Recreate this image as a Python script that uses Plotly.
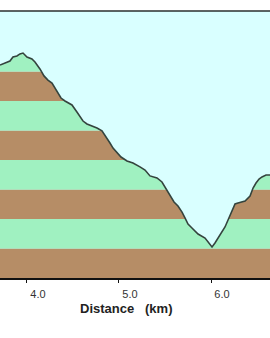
import plotly.graph_objects as go

# Elevation profile (distance km, elevation m)
distance_km = [3.707, 3.761, 3.815, 3.848, 3.891, 3.924, 3.957, 4.000, 4.054, 4.087,
               4.141, 4.185, 4.228, 4.272, 4.304, 4.337, 4.370, 4.413, 4.446, 4.489,
               4.543, 4.576, 4.609, 4.652, 4.685, 4.761, 4.815, 4.848, 4.902, 4.935,
               4.978, 5.022, 5.087, 5.152, 5.228, 5.283, 5.337, 5.413, 5.467, 5.522,
               5.554, 5.598, 5.641, 5.685, 5.717, 5.750, 5.793, 5.859, 5.935, 5.978,
               6.011, 6.043, 6.065, 6.098, 6.120, 6.152, 6.185, 6.228, 6.261, 6.293,
               6.337, 6.370, 6.424, 6.457, 6.489, 6.522, 6.554, 6.598, 6.641]
elevation_m = [344.4, 345.8, 347.1, 349.8, 350.5, 351.9, 352.5, 349.8, 348.5, 346.4,
               341.7, 337.0, 334.2, 332.2, 328.8, 324.7, 322.0, 320.0, 318.6, 317.3,
               312.5, 309.2, 306.4, 304.4, 303.7, 301.7, 299.7, 296.9, 291.5, 288.1,
               284.7, 282.0, 279.3, 278.0, 275.3, 273.2, 269.2, 267.8, 265.1, 259.7,
               256.3, 251.5, 248.8, 244.7, 240.7, 236.6, 233.9, 229.8, 227.1, 223.7,
               221.0, 223.7, 225.8, 228.5, 231.2, 234.6, 239.3, 245.4, 250.2, 250.8,
               251.5, 252.2, 255.6, 261.0, 264.4, 267.1, 268.5, 269.8, 269.8]

band_edges = [200, 220, 240, 260, 280, 300, 320, 340, 381]
band_colors = ["#b68d66", "#a0f1c1"]
x_range = [3.707, 6.641]
y_range = [200, 381]
x_ticks = [4.0, 5.0, 6.0]
x_tick_text = ["4.0", "5.0", "6.0"]

SKY = "#d9ffff"

shapes = []
for i in range(len(band_edges) - 1):
    shapes.append(dict(type="rect", xref="paper", x0=0, x1=1, yref="y",
                       y0=band_edges[i], y1=band_edges[i + 1],
                       fillcolor=band_colors[i % 2], line=dict(width=0), layer="below"))
# top frame line
shapes.append(dict(type="line", xref="paper", x0=0, x1=1, yref="paper", y0=1, y1=1,
                   line=dict(color="#2a2f2e", width=1.5), layer="above"))

fig = go.Figure()
fig.add_trace(go.Scatter(x=distance_km, y=[y_range[1]] * len(distance_km),
                         mode="lines", line=dict(width=0), hoverinfo="skip",
                         showlegend=False))
fig.add_trace(go.Scatter(x=distance_km, y=elevation_m, mode="lines",
                         line=dict(color="#34443e", width=1.6),
                         fill="tonexty", fillcolor=SKY, showlegend=False))

fig.update_layout(
    width=270, height=338,
    margin=dict(l=0, r=0, t=11, b=60),
    paper_bgcolor="white", plot_bgcolor=SKY,
    shapes=shapes,
    font=dict(family="Liberation Sans, Arial, sans-serif", color="#333333"),
    xaxis=dict(range=x_range, tickvals=x_ticks, ticktext=x_tick_text,
               showgrid=False, zeroline=False, showline=True, mirror=False,
               linecolor="#111111", linewidth=1.5, ticks="outside", ticklen=3,
               tickcolor="#111111", tickfont=dict(size=11, color="#333333"),
               ticklabelshift=11, ticklabelstandoff=2),
    yaxis=dict(range=y_range, showgrid=False, zeroline=False, showticklabels=False,
               showline=False, ticks=""),
    annotations=[dict(text="<b>Distance\u00a0\u00a0\u00a0(km)</b>", xref="paper", yref="paper",
                      x=125.5 / 270, y=-30 / 267, xanchor="center", yanchor="middle",
                      showarrow=False, font=dict(size=13, color="#222222"))],
)

fig.write_html("out.html")
